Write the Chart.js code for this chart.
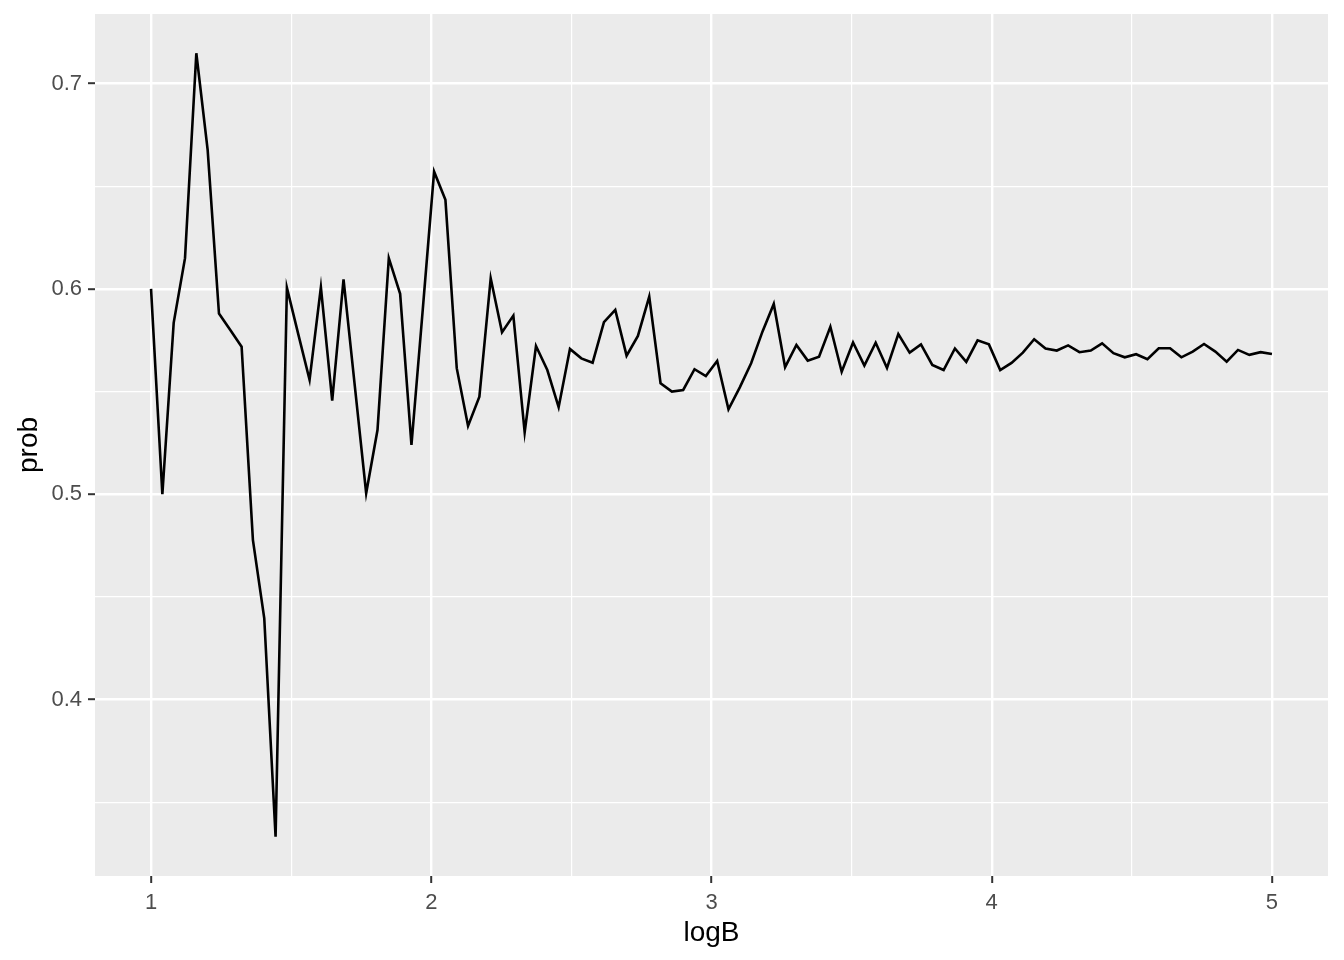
<!DOCTYPE html>
<html>
<head>
<meta charset="utf-8">
<script src="https://cdn.jsdelivr.net/npm/chart.js@4.4.1/dist/chart.umd.min.js"></script>
<style>
  html, body { margin: 0; padding: 0; background: #ffffff; }
  #wrap { width: 1344px; height: 960px; }
</style>
</head>
<body>
<div id="wrap"><canvas id="c" width="1344" height="960"></canvas></div>
<script>
const logB = [
  1.0000, 1.0404, 1.0808, 1.1212, 1.1616, 1.2020, 1.2424, 1.2828, 1.3232, 1.3636,
  1.4040, 1.4444, 1.4848, 1.5253, 1.5657, 1.6061, 1.6465, 1.6869, 1.7273, 1.7677,
  1.8081, 1.8485, 1.8889, 1.9293, 1.9697, 2.0101, 2.0505, 2.0909, 2.1313, 2.1717,
  2.2121, 2.2525, 2.2929, 2.3333, 2.3737, 2.4141, 2.4545, 2.4949, 2.5354, 2.5758,
  2.6162, 2.6566, 2.6970, 2.7374, 2.7778, 2.8182, 2.8586, 2.8990, 2.9394, 2.9798,
  3.0202, 3.0606, 3.1010, 3.1414, 3.1818, 3.2222, 3.2626, 3.3030, 3.3434, 3.3838,
  3.4242, 3.4646, 3.5051, 3.5455, 3.5859, 3.6263, 3.6667, 3.7071, 3.7475, 3.7879,
  3.8283, 3.8687, 3.9091, 3.9495, 3.9899, 4.0303, 4.0707, 4.1111, 4.1515, 4.1919,
  4.2323, 4.2727, 4.3131, 4.3535, 4.3939, 4.4343, 4.4747, 4.5152, 4.5556, 4.5960,
  4.6364, 4.6768, 4.7172, 4.7576, 4.7980, 4.8384, 4.8788, 4.9192, 4.9596, 5.0000
];
const prob = [
  0.6000, 0.5000, 0.5835, 0.6150, 0.7148, 0.6677, 0.5880, 0.5800, 0.5719, 0.4777,
  0.4396, 0.3332, 0.6006, 0.5780, 0.5557, 0.6008, 0.5456, 0.6047, 0.5526, 0.5005,
  0.5313, 0.6150, 0.5976, 0.5240, 0.5900, 0.6571, 0.6434, 0.5614, 0.5333, 0.5475,
  0.6052, 0.5789, 0.5870, 0.5302, 0.5722, 0.5605, 0.5424, 0.5708, 0.5662, 0.5641,
  0.5838, 0.5898, 0.5675, 0.5771, 0.5963, 0.5541, 0.5500, 0.5508, 0.5609, 0.5576,
  0.5649, 0.5414, 0.5521, 0.5638, 0.5792, 0.5927, 0.5619, 0.5727, 0.5651, 0.5670,
  0.5816, 0.5597, 0.5739, 0.5627, 0.5738, 0.5615, 0.5780, 0.5690, 0.5730, 0.5630,
  0.5605, 0.5710, 0.5645, 0.5750, 0.5730, 0.5605, 0.5640, 0.5690, 0.5755, 0.5710,
  0.5700, 0.5725, 0.5692, 0.5700, 0.5735, 0.5687, 0.5667, 0.5682, 0.5658, 0.5711,
  0.5711, 0.5667, 0.5695, 0.5732, 0.5695, 0.5646, 0.5703, 0.5679, 0.5692, 0.5683
];
const xMajorTicks = [1, 2, 3, 4, 5];
const xMinorTicks = [1.5, 2.5, 3.5, 4.5];
const yMajorTicks = [0.4, 0.5, 0.6, 0.7];
const yMinorTicks = [0.35, 0.45, 0.55, 0.65];

const isMajor = (v, list) => list.some(m => Math.abs(m - v) < 1e-9);
const FONT = "'Liberation Sans', Arial, Helvetica, sans-serif";

const panelBg = {
  id: 'panelBg',
  beforeDraw(chart) {
    const {ctx, chartArea: a} = chart;
    ctx.save();
    ctx.fillStyle = '#ffffff';
    ctx.fillRect(0, 0, chart.width, chart.height);
    ctx.fillStyle = '#EBEBEB';
    ctx.fillRect(a.left, a.top, a.right - a.left, a.bottom - a.top);
    ctx.restore();
  }
};

new Chart(document.getElementById('c'), {
  type: 'line',
  data: {
    datasets: [{
      data: logB.map((x, i) => ({x: x, y: prob[i]})),
      borderColor: '#000000',
      borderWidth: 2.6,
      pointRadius: 0,
      tension: 0,
      fill: false
    }]
  },
  options: {
    responsive: false,
    animation: false,
    devicePixelRatio: 1,
    layout: { padding: { top: 14, right: 16, left: 0, bottom: 0 } },
    plugins: { legend: { display: false }, tooltip: { enabled: false } },
    scales: {
      x: {
        type: 'linear',
        min: 0.8,
        max: 5.2,
        afterBuildTicks(scale) {
          scale.ticks = [...xMajorTicks, ...xMinorTicks].sort((a, b) => a - b).map(v => ({value: v}));
        },
        afterFit(scale) {
          scale.height = 84;
          scale.paddingLeft = 0; scale.paddingRight = 0;
        },
        border: { display: false },
        grid: {
          color: '#ffffff',
          lineWidth: c => isMajor(c.tick.value, xMajorTicks) ? 2.4 : 1.2,
          drawTicks: true,
          tickLength: 7,
          tickWidth: 2,
          tickColor: c => isMajor(c.tick.value, xMajorTicks) ? '#333333' : 'rgba(0,0,0,0)'
        },
        ticks: {
          padding: 7,
          autoSkip: false,
          maxRotation: 0,
          color: '#4D4D4D',
          font: { family: FONT, size: 22 },
          callback: v => isMajor(v, xMajorTicks) ? String(v) : ''
        },
        title: {
          display: true,
          text: 'logB',
          color: '#000000',
          font: { family: FONT, size: 28 },
          padding: { top: 0, bottom: 10 }
        }
      },
      y: {
        type: 'linear',
        min: 0.3141,
        max: 0.7339,
        afterBuildTicks(scale) {
          scale.ticks = [...yMajorTicks, ...yMinorTicks].sort((a, b) => a - b).map(v => ({value: v}));
        },
        afterFit(scale) {
          scale.width = 95;
          scale.paddingTop = 0; scale.paddingBottom = 0;
        },
        border: { display: false },
        grid: {
          color: '#ffffff',
          lineWidth: c => isMajor(c.tick.value, yMajorTicks) ? 2.4 : 1.2,
          drawTicks: true,
          tickLength: 7,
          tickWidth: 2,
          tickColor: c => isMajor(c.tick.value, yMajorTicks) ? '#333333' : 'rgba(0,0,0,0)'
        },
        ticks: {
          padding: 6,
          autoSkip: false,
          color: '#4D4D4D',
          font: { family: FONT, size: 22 },
          callback: v => isMajor(v, yMajorTicks) ? v.toFixed(1) : ''
        },
        title: {
          display: true,
          text: 'prob',
          color: '#000000',
          font: { family: FONT, size: 28 },
          padding: { top: 12, bottom: 0 }
        }
      }
    }
  },
  plugins: [panelBg]
});
</script>
</body>
</html>
